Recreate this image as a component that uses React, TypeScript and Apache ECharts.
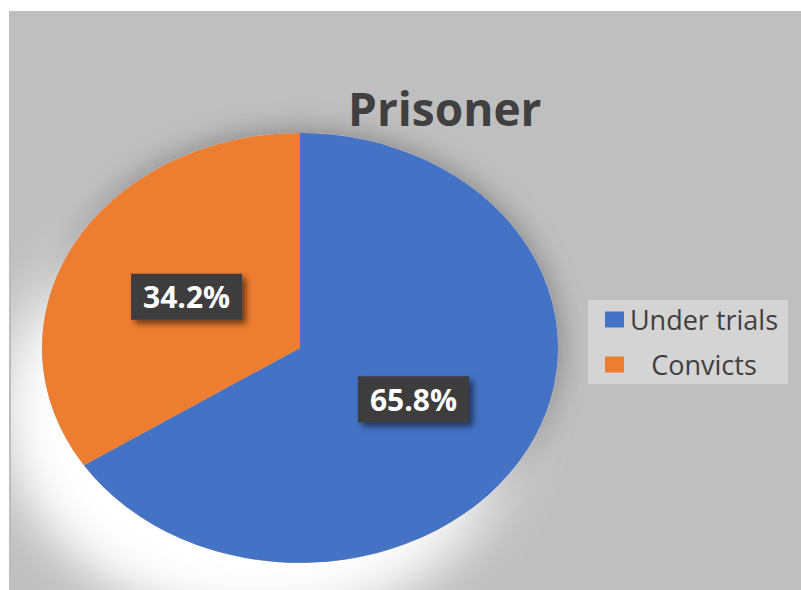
import React, { useEffect, useRef } from "react";
import * as echarts from "echarts";

const categories = ["Under trials", "Convicts"];
const values = [65.8, 34.2];
const colors = ["#4472C4", "#ED7D31"];
const titleText = "Prisoner";

const CX = 300;
const CY = 348;
const RX = 258;
const RY = 215;
const FONT = "Open Sans";

export default function App() {
  const ref = useRef<HTMLDivElement>(null);
  useEffect(() => {
    const chart = echarts.init(ref.current!, null, { renderer: "svg" });
    const total = values.reduce((a, b) => a + b, 0);
    const series = categories.map((name, i) => ({
      type: "custom",
      name,
      coordinateSystem: "none",
      data: [[values[i]]],
      itemStyle: { color: colors[i] },
      renderItem: (params: any, api: any) => {
        const v = api.value(0);
        let before = 0;
        for (let k = 0; k < i; k++) before += values[k];
        const start = -Math.PI / 2 + (before / total) * 2 * Math.PI;
        const end = start + (v / total) * 2 * Math.PI;
        const mid = (start + end) / 2;
        const lx = CX + Math.cos(mid) * RX * 0.5;
        const ly = CY + Math.sin(mid) * RY * 0.5;
        const children: any[] = [];
        if (i === 0) {
          children.push({
            type: "ellipse",
            shape: { cx: CX, cy: CY, rx: RX, ry: RY },
            style: {
              fill: "#bfbfbf",
              shadowColor: "rgba(0,0,0,0.35)",
              shadowBlur: 30,
              shadowOffsetX: 0,
              shadowOffsetY: 0,
            },
          });
          children.push({
            type: "ellipse",
            shape: { cx: CX, cy: CY, rx: RX, ry: RY },
            style: {
              fill: "#bfbfbf",
              shadowColor: "rgba(255,255,255,1)",
              shadowBlur: 50,
              shadowOffsetX: -40,
              shadowOffsetY: 60,
            },
          });
        }
        children.push({
          type: "sector",
          shape: { cx: CX, cy: CY, r: RX, r0: 0, startAngle: start, endAngle: end, clockwise: true },
          scaleY: RY / RX,
          originX: CX,
          originY: CY,
          style: { fill: colors[i] },
        });
        children.push({
          type: "text",
          x: lx,
          y: ly,
          z2: 10,
          style: {
            text: ((v / total) * 100).toFixed(1) + "%",
            fill: "#ffffff",
            fontSize: 30,
            fontWeight: "bold",
            fontFamily: FONT,
            align: "center",
            verticalAlign: "middle",
            backgroundColor: "#3e3e3e",
            padding: [8, 12, 8, 12],
            shadowColor: "rgba(0,0,0,0.55)",
            shadowBlur: 6,
            shadowOffsetX: 4,
            shadowOffsetY: 4,
          },
        });
        return { type: "group", children };
      },
    }));
    chart.setOption({
      animation: false,
      backgroundColor: "#ffffff",
      title: {
        text: titleText,
        left: 343,
        top: 80,
        textStyle: { fontSize: 46, fontWeight: "bold", color: "#404040", fontFamily: FONT },
      },
      legend: {
        data: categories,
        orient: "vertical",
        left: 588,
        top: 300,
        backgroundColor: "#d4d4d4",
        padding: [6, 9, 6, 17],
        itemWidth: 19,
        itemHeight: 16,
        itemGap: 18,
        itemTextGap: 15,
        icon: "rect",
        formatter: (name: string) => `{a|${name}}`,
        textStyle: {
          color: "#404040",
          fontFamily: FONT,
          fontSize: 27,
          rich: {
            a: { width: 150, align: "center", fontSize: 27, lineHeight: 32, color: "#404040", fontFamily: FONT },
          },
        },
      },
      graphic: [
        { type: "rect", z: -10, shape: { x: 9, y: 11, width: 792, height: 579 }, style: { fill: "#bfbfbf" } },
        { type: "line", z: 100, shape: { x1: 10, y1: 11, x2: 10, y2: 590 }, style: { stroke: "#bdbdbd", lineWidth: 2 } },
      ],
      series,
    });
    return () => chart.dispose();
  }, []);
  return <div ref={ref} style={{ position: "fixed", left: 0, top: 0, width: 801, height: 590 }} />;
}
